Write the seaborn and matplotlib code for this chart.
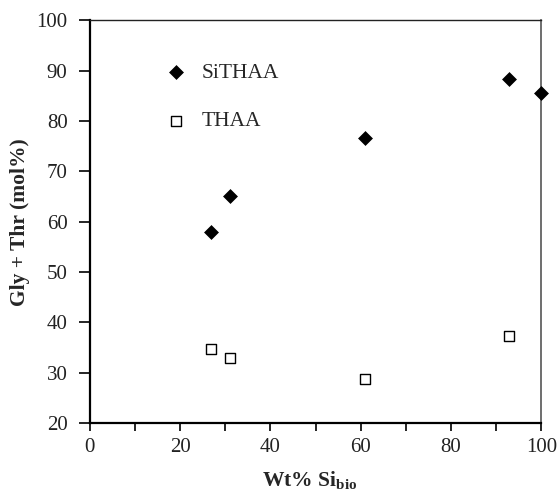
import matplotlib
matplotlib.use("Agg")
import matplotlib.pyplot as plt
from matplotlib.ticker import MultipleLocator
import pandas as pd
import seaborn as sns

# values
si_bio = [26.9, 31.0, 60.9, 92.9, 100.0]
sithaa = [58.0, 65.1, 76.7, 88.3, 85.5]

si_bio_thaa = [26.9, 31.0, 60.9, 92.8]
thaa = [34.7, 33.0, 28.7, 37.3]

df_si = pd.DataFrame({'x': si_bio, 'y': sithaa})
df_th = pd.DataFrame({'x': si_bio_thaa, 'y': thaa})

sns.set_style("ticks")
plt.rcParams['font.family'] = ['Liberation Serif', 'DejaVu Serif']
plt.rcParams['mathtext.fontset'] = 'custom'
plt.rcParams['mathtext.bf'] = 'Liberation Serif:bold'
plt.rcParams['mathtext.rm'] = 'Liberation Serif'

fig = plt.figure(figsize=(5.58, 4.92), dpi=100)
ax = fig.add_axes([0.161, 0.140, 0.809, 0.819])

sns.scatterplot(data=df_si, x='x', y='y', marker='D', s=50, color='black',
                edgecolor='black', linewidth=0.5, ax=ax, label='SiTHAA',
                clip_on=False, zorder=3)
sns.scatterplot(data=df_th, x='x', y='y', marker='s', s=60, color='white',
                edgecolor='black', linewidth=1.0, ax=ax, label='THAA',
                clip_on=False, zorder=3)

ax.set_xlim(0, 100)
ax.set_ylim(20, 100)
ax.xaxis.set_major_locator(MultipleLocator(20))
ax.xaxis.set_minor_locator(MultipleLocator(10))
ax.yaxis.set_major_locator(MultipleLocator(10))
ax.tick_params(axis='both', which='both', direction='out', length=6,
               width=1.2, color='black', labelsize=15, pad=5,
               labelcolor='#222222')
ax.tick_params(axis='y', which='major', length=8, pad=8)

for side in ['left', 'bottom']:
    ax.spines[side].set_linewidth(1.6)
    ax.spines[side].set_color('black')
ax.spines['top'].set_linewidth(1.0)
ax.spines['top'].set_color('#222222')
ax.spines['right'].set_linewidth(1.2)
ax.spines['right'].set_color('#555555')

ax.set_xlabel(r'Wt% Si$_{\mathbf{bio}}$', fontsize=15.5, fontweight='bold',
              labelpad=9)
ax.xaxis.label.set_x(0.487)
ax.set_ylabel('Gly + Thr (mol%)', fontsize=15.5, fontweight='bold')
ax.yaxis.set_label_coords(-0.133, 0.5)

leg = ax.legend(loc='upper left', bbox_to_anchor=(0.125, 0.915), frameon=False,
                fontsize=15.5, labelspacing=1.3, handletextpad=0.15,
                borderaxespad=0)

fig.savefig('out.png', dpi=100)
